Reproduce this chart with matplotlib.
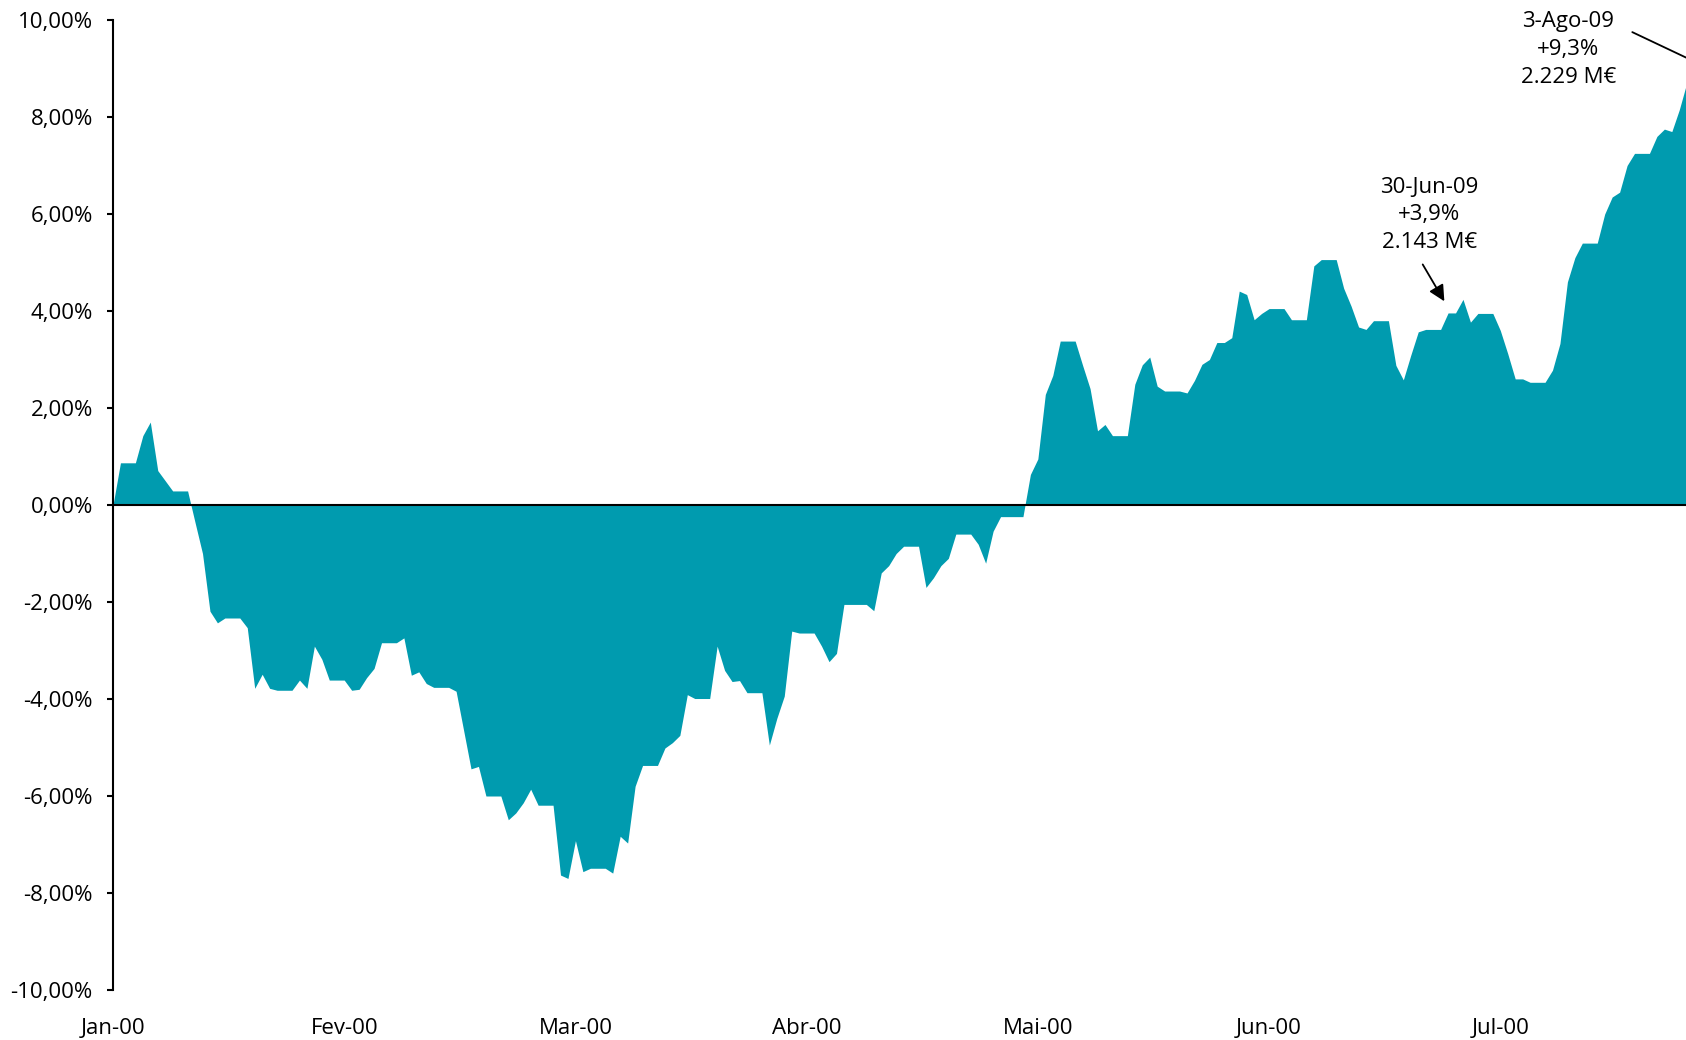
import matplotlib
matplotlib.use("Agg")
import matplotlib.pyplot as plt

plt.rcParams['font.family'] = ['Open Sans', 'DejaVu Sans']

# daily cumulative performance (%), 1 Jan .. 3 Aug (calendar days, weekends repeat)
values = [
    0.00, 0.87, 0.87, 0.87, 1.43, 1.71, 0.71, 0.50, 0.29, 0.29,
    0.29, -0.36, -1.00, -2.19, -2.43, -2.33, -2.33, -2.33, -2.53, -3.78,
    -3.49, -3.78, -3.82, -3.82, -3.82, -3.61, -3.78, -2.91, -3.18, -3.61,
    -3.61, -3.61, -3.82, -3.80, -3.56, -3.37, -2.84, -2.84, -2.84, -2.74,
    -3.51, -3.44, -3.68, -3.76, -3.76, -3.76, -3.84, -4.64, -5.44, -5.39,
    -6.00, -6.00, -6.00, -6.49, -6.35, -6.14, -5.86, -6.19, -6.19, -6.19,
    -7.63, -7.70, -6.92, -7.56, -7.49, -7.49, -7.49, -7.59, -6.83, -6.97,
    -5.80, -5.37, -5.37, -5.37, -5.01, -4.90, -4.75, -3.91, -3.99, -3.99,
    -3.99, -2.91, -3.41, -3.64, -3.62, -3.87, -3.87, -3.87, -4.95, -4.40,
    -3.94, -2.60, -2.64, -2.64, -2.64, -2.91, -3.23, -3.06, -2.05, -2.05,
    -2.05, -2.05, -2.18, -1.40, -1.25, -1.00, -0.85, -0.85, -0.85, -1.70,
    -1.50, -1.25, -1.10, -0.60, -0.60, -0.60, -0.81, -1.20, -0.54, -0.24,
    -0.24, -0.24, -0.24, 0.63, 0.95, 2.28, 2.67, 3.38, 3.38, 3.38,
    2.88, 2.40, 1.53, 1.66, 1.43, 1.43, 1.43, 2.49, 2.89, 3.05,
    2.45, 2.35, 2.35, 2.35, 2.31, 2.57, 2.90, 3.00, 3.35, 3.35,
    3.45, 4.41, 4.34, 3.82, 3.95, 4.05, 4.05, 4.05, 3.82, 3.82,
    3.82, 4.93, 5.06, 5.06, 5.06, 4.47, 4.10, 3.67, 3.62, 3.80,
    3.80, 3.80, 2.88, 2.58, 3.09, 3.57, 3.62, 3.62, 3.62, 3.96,
    3.96, 4.24, 3.77, 3.95, 3.95, 3.95, 3.60, 3.12, 2.60, 2.60,
    2.53, 2.53, 2.53, 2.78, 3.33, 4.60, 5.10, 5.40, 5.40, 5.40,
    6.00, 6.35, 6.45, 7.00, 7.25, 7.25, 7.25, 7.60, 7.75, 7.70,
    8.15, 8.70, 8.70, 8.70, 9.30,
]
days = list(range(len(values)))

month_ticks = [0, 31, 62, 93, 124, 155, 186]
month_labels = ['Jan-00', 'Fev-00', 'Mar-00', 'Abr-00', 'Mai-00', 'Jun-00', 'Jul-00']
y_ticks = [-10, -8, -6, -4, -2, 0, 2, 4, 6, 8, 10]
y_labels = [f"{v:.2f}%".replace('.', ',') for v in y_ticks]

ann_texts = ['30-Jun-09\n+3,9%\n2.143 M€', '3-Ago-09\n+9,3%\n2.229 M€']
ann_text_pos = [(176.5, 5.98), (195.1, 9.39)]
ann_arrow_tail = [(175.6, 4.96), (203.7, 9.75)]
ann_arrow_head = [(178.5, 4.20), (214.0, 9.00)]

fill_color = '#009BAF'

fig = plt.figure(figsize=(16.86, 10.40), dpi=100)
ax = fig.add_axes([113/1686, 1 - 990/1040, 1 - 113/1686, (990 - 20)/1040])

ax.fill_between(days, values, 0, color=fill_color, linewidth=0, zorder=2)
ax.axhline(0, color='black', lw=1.5, zorder=3)

ax.set_xlim(0, 210.9)
ax.set_ylim(-10, 10)

for s in ['top', 'right', 'bottom']:
    ax.spines[s].set_visible(False)
ax.spines['left'].set_linewidth(1.5)
ax.spines['left'].set_zorder(4)

ax.set_yticks(y_ticks)
ax.set_yticklabels(y_labels, fontsize=16)
ax.tick_params(axis='y', direction='out', length=4.5, width=1.5, pad=10)

ax.set_xticks(month_ticks)
ax.set_xticklabels(month_labels, fontsize=16)
ax.tick_params(axis='x', length=0, pad=20)

for txt, pos in zip(ann_texts, ann_text_pos):
    ax.text(pos[0], pos[1], txt, ha='center', va='center', fontsize=16,
            linespacing=1.42, clip_on=False, zorder=5)

for tail, head in zip(ann_arrow_tail, ann_arrow_head):
    ax.annotate('', xy=head, xytext=tail, annotation_clip=False,
                arrowprops=dict(arrowstyle='-|>', color='black', lw=1.3,
                                mutation_scale=24, shrinkA=0, shrinkB=0),
                zorder=6)

fig.savefig('out.png', dpi=100)
